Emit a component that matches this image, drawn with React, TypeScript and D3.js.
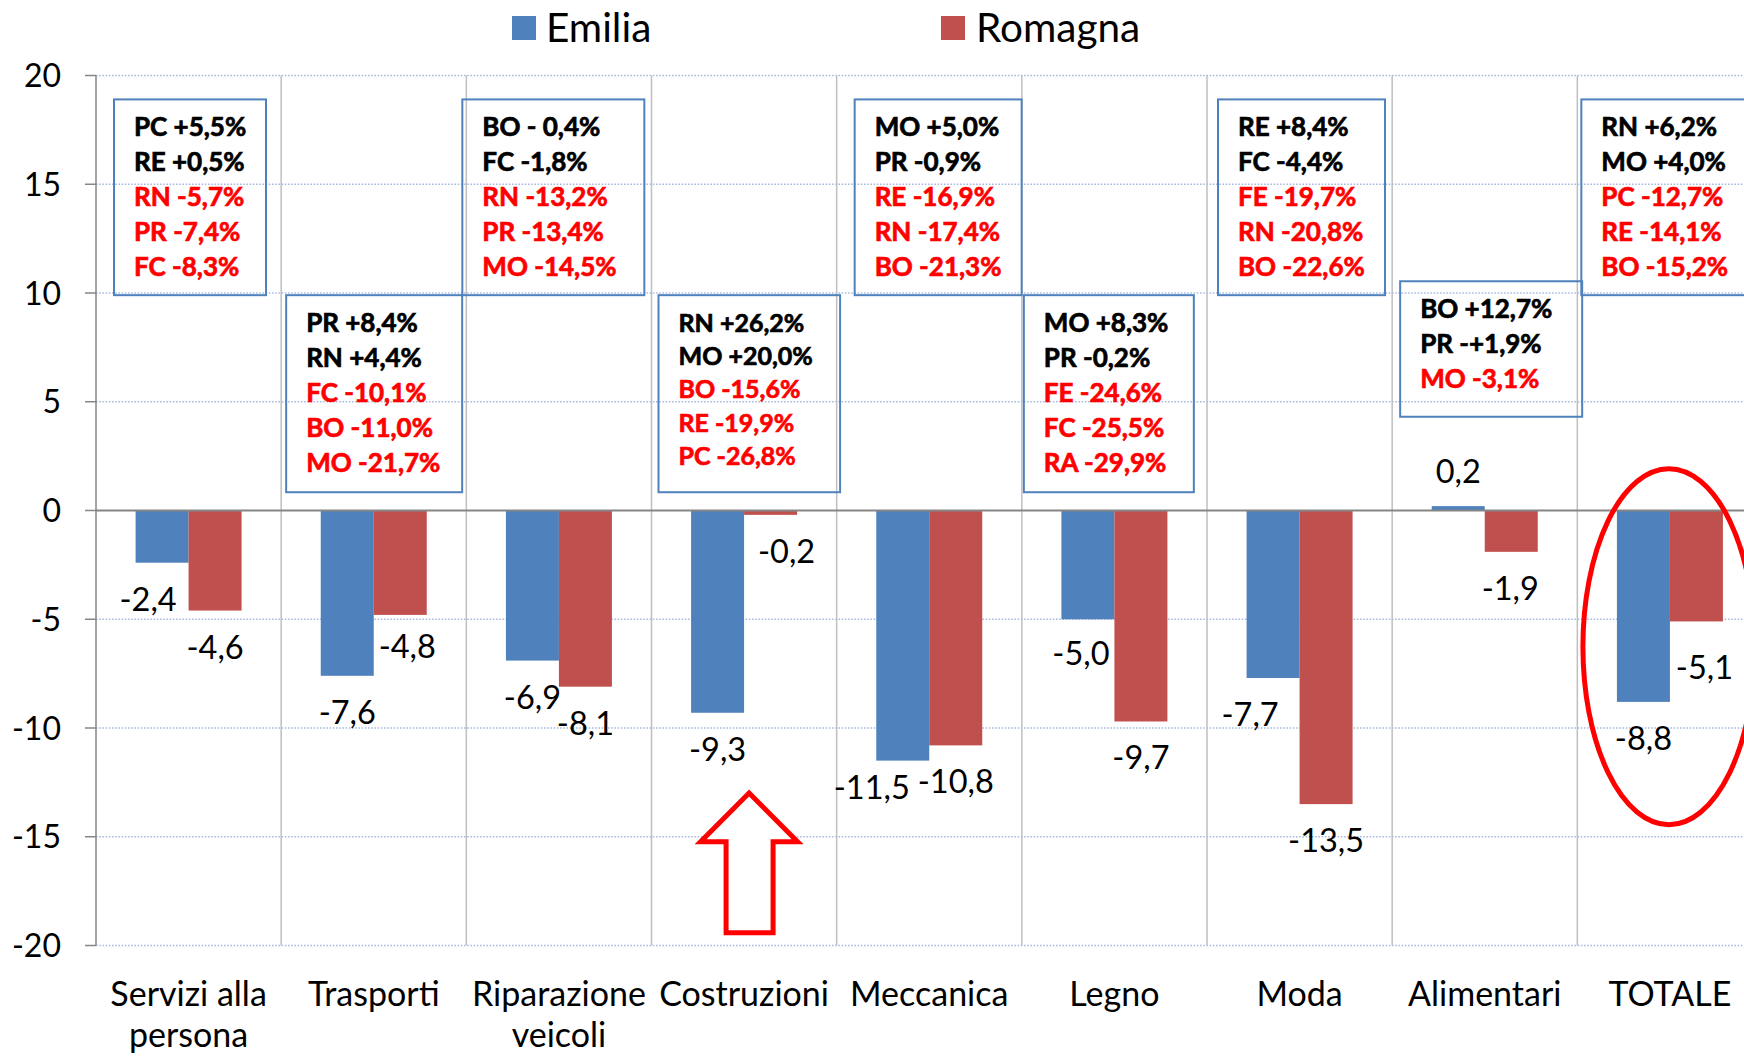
import React from "react";
import * as d3 from "d3";

// ---------- data ----------
const categories = [
  "Servizi alla persona",
  "Trasporti",
  "Riparazione veicoli",
  "Costruzioni",
  "Meccanica",
  "Legno",
  "Moda",
  "Alimentari",
  "TOTALE",
];
const seriesNames = ["Emilia", "Romagna"];
const emilia = [-2.4, -7.6, -6.9, -9.3, -11.5, -5.0, -7.7, 0.2, -8.8];
const romagna = [-4.6, -4.8, -8.1, -0.2, -10.8, -9.7, -13.5, -1.9, -5.1];
const yTicks = [20, 15, 10, 5, 0, -5, -10, -15, -20];

// province notes per category: first two lines black, the rest red
const provinceNotes = [
  ["PC +5,5%", "RE +0,5%", "RN -5,7%", "PR -7,4%", "FC -8,3%"],
  ["PR +8,4%", "RN +4,4%", "FC -10,1%", "BO -11,0%", "MO -21,7%"],
  ["BO - 0,4%", "FC -1,8%", "RN -13,2%", "PR -13,4%", "MO -14,5%"],
  ["RN +26,2%", "MO +20,0%", "BO -15,6%", "RE -19,9%", "PC -26,8%"],
  ["MO +5,0%", "PR -0,9%", "RE -16,9%", "RN -17,4%", "BO -21,3%"],
  ["MO +8,3%", "PR -0,2%", "FE -24,6%", "FC -25,5%", "RA -29,9%"],
  ["RE +8,4%", "FC -4,4%", "FE -19,7%", "RN -20,8%", "BO -22,6%"],
  ["BO +12,7%", "PR -+1,9%", "MO -3,1%"],
  ["RN +6,2%", "MO +4,0%", "PC -12,7%", "RE -14,1%", "BO -15,2%"],
];

// ---------- layout (positions, not data) ----------
const W = 1744;
const H = 1058;
const plotLeft = 96;
const plotRight = 1762.5;
// note boxes: left/right offset within category band (px), top/bottom in axis units
const boxLayout = [
  { l: 18, r: 170, top: 18.9, bot: 9.9, lh: 35, fs: 26 },
  { l: 5, r: 181, top: 9.9, bot: 0.84, lh: 35, fs: 26 },
  { l: -4, r: 178, top: 18.9, bot: 9.9, lh: 35, fs: 26 },
  { l: 7, r: 188.6, top: 9.9, bot: 0.84, lh: 33.4, fs: 25 },
  { l: 18, r: 185, top: 18.9, bot: 9.9, lh: 35, fs: 26 },
  { l: 2, r: 172, top: 9.9, bot: 0.84, lh: 35, fs: 26 },
  { l: 11, r: 178, top: 18.9, bot: 9.9, lh: 35, fs: 26 },
  { l: 8, r: 190, top: 10.54, bot: 4.31, lh: 35, fs: 26 },
  { l: 4, r: 200, top: 18.9, bot: 9.9, lh: 35, fs: 26 },
];
// manual nudges of data labels [dx, dy]
const nudgeEmilia = [[-14, 0], [0, 0], [0, 0], [0, 0], [-31, -10], [-7, -2], [-23, 0], [0, 0], [0, 0]];
const nudgeRomagna = [[0, 0], [7, -5], [0, 0], [16, 0], [0, 0], [0, 0], [0, 0], [-1, 0], [8, 10]];

const FONT = "Lato, 'Open Sans', sans-serif";
const BLUE = "#4F81BD";
const RED = "#C0504D";

function wrap(label: string, maxChars = 12): string[] {
  const words = label.split(" ");
  const lines: string[] = [];
  let cur = "";
  for (const w of words) {
    const t = cur ? cur + " " + w : w;
    if (t.length > maxChars && cur) {
      lines.push(cur);
      cur = w;
    } else cur = t;
  }
  if (cur) lines.push(cur);
  return lines;
}

const fmt = (v: number) => v.toFixed(1).replace(".", ",");

export default function App() {
  const x0 = d3.scaleBand<string>().domain(categories).range([plotLeft, plotRight]).paddingInner(0).paddingOuter(0);
  const bw = x0.bandwidth();
  const x1 = d3
    .scaleBand<string>()
    .domain(seriesNames)
    .range([(bw - 106) / 2, (bw + 106) / 2]);
  const y = d3.scaleLinear().domain([-20, 20]).range([945.5, 75.5]);
  const series = [
    { name: seriesNames[0], values: emilia, color: BLUE, nudge: nudgeEmilia },
    { name: seriesNames[1], values: romagna, color: RED, nudge: nudgeRomagna },
  ];

  const costrX = (x0(categories[3]) as number) + bw / 2 + 5;
  const totX = (x0(categories[8]) as number) + bw / 2 - 1;

  return (
    <svg
      width={W}
      height={H}
      style={{ position: "absolute", left: 0, top: 0, background: "#fff" }}
      fontFamily={FONT}
    >
      <rect x={0} y={0} width={W} height={H} fill="#fff" />
      {/* gridlines */}
      {yTicks
        .filter((t) => t !== 0)
        .map((t) => (
          <line
            key={"g" + t}
            x1={plotLeft}
            x2={plotRight}
            y1={y(t)}
            y2={y(t)}
            stroke="#A9BCE0"
            strokeWidth={1.4}
            strokeDasharray="1.6 1.6"
          />
        ))}
      {/* vertical separators */}
      {categories.map((c, i) =>
        i === 0 ? null : (
          <line
            key={"v" + c}
            x1={x0(c)}
            x2={x0(c)}
            y1={y(20)}
            y2={y(-20)}
            stroke="#BFBFBF"
            strokeWidth={1.5}
          />
        )
      )}
      {/* bars */}
      {series.map((s) =>
        s.values.map((v, i) => {
          const bx = (x0(categories[i]) as number) + (x1(s.name) as number);
          return (
            <rect
              key={s.name + i}
              x={bx}
              y={Math.min(y(v), y(0))}
              width={x1.bandwidth()}
              height={Math.abs(y(v) - y(0))}
              fill={s.color}
            />
          );
        })
      )}
      {/* zero line */}
      <line x1={plotLeft} x2={plotRight} y1={y(0)} y2={y(0)} stroke="#868686" strokeWidth={2} />
      {/* y axis */}
      <line x1={plotLeft} x2={plotLeft} y1={y(20)} y2={y(-20)} stroke="#868686" strokeWidth={1.5} />
      {yTicks.map((t) => (
        <g key={"t" + t}>
          <line x1={plotLeft - 11} x2={plotLeft} y1={y(t)} y2={y(t)} stroke="#868686" strokeWidth={1.5} />
          <text x={61} y={y(t) + 11.5} textAnchor="end" fontSize={32} fill="#000">
            {t}
          </text>
        </g>
      ))}
      {/* data labels */}
      {series.map((s) =>
        s.values.map((v, i) => {
          const cx = (x0(categories[i]) as number) + (x1(s.name) as number) + x1.bandwidth() / 2;
          const by = v < 0 ? y(v) + 48 : y(v) - 23;
          return (
            <text
              key={"l" + s.name + i}
              x={cx + s.nudge[i][0]}
              y={by + s.nudge[i][1]}
              textAnchor="middle"
              fontSize={32.5}
              fill="#000"
            >
              {fmt(v)}
            </text>
          );
        })
      )}
      {/* category labels */}
      {categories.map((c) => (
        <text key={"c" + c} textAnchor="middle" fontSize={34} fill="#000">
          {wrap(c).map((line, k) => (
            <tspan key={k} x={(x0(c) as number) + bw / 2} y={1006 + k * 41}>
              {line}
            </tspan>
          ))}
        </text>
      ))}
      {/* note boxes */}
      {provinceNotes.map((lines, i) => {
        const L = boxLayout[i];
        const bx = (x0(categories[i]) as number) + L.l;
        const top = y(L.top);
        const bot = y(L.bot);
        return (
          <g key={"b" + i}>
            <rect x={bx} y={top} width={L.r - L.l} height={bot - top} fill="none" stroke={BLUE} strokeWidth={2} />
            {lines.map((ln, k) => {
              const col = k < 2 ? "#000" : "#FF0000";
              return (
                <text
                  key={k}
                  x={bx + 20}
                  y={top + 36.5 + k * L.lh}
                  fontSize={L.fs}
                  fontWeight="bold"
                  fill={col}
                  stroke={col}
                  strokeWidth={0.7}
                >
                  {ln}
                </text>
              );
            })}
          </g>
        );
      })}
      {/* arrow pointing up to Costruzioni */}
      <path
        d={`M${costrX},${793} L${costrX + 48.5},${841.7} L${costrX + 24},${841.7} L${costrX + 24},${932.7} L${costrX - 23},${932.7} L${costrX - 23},${841.7} L${costrX - 48.5},${841.7} Z`}
        fill="#fff"
        stroke="#FF0000"
        strokeWidth={5}
      />
      {/* ellipse around TOTALE */}
      <ellipse cx={totX} cy={646.7} rx={86} ry={178} fill="none" stroke="#FF0000" strokeWidth={5} />
      {/* legend */}
      <rect x={512} y={16} width={24} height={24} fill={BLUE} />
      <text x={546} y={42} fontSize={40.5} fill="#000">
        {seriesNames[0]}
      </text>
      <rect x={941} y={16} width={24} height={24} fill={RED} />
      <text x={976} y={42} fontSize={40.5} fill="#000">
        {seriesNames[1]}
      </text>
    </svg>
  );
}
